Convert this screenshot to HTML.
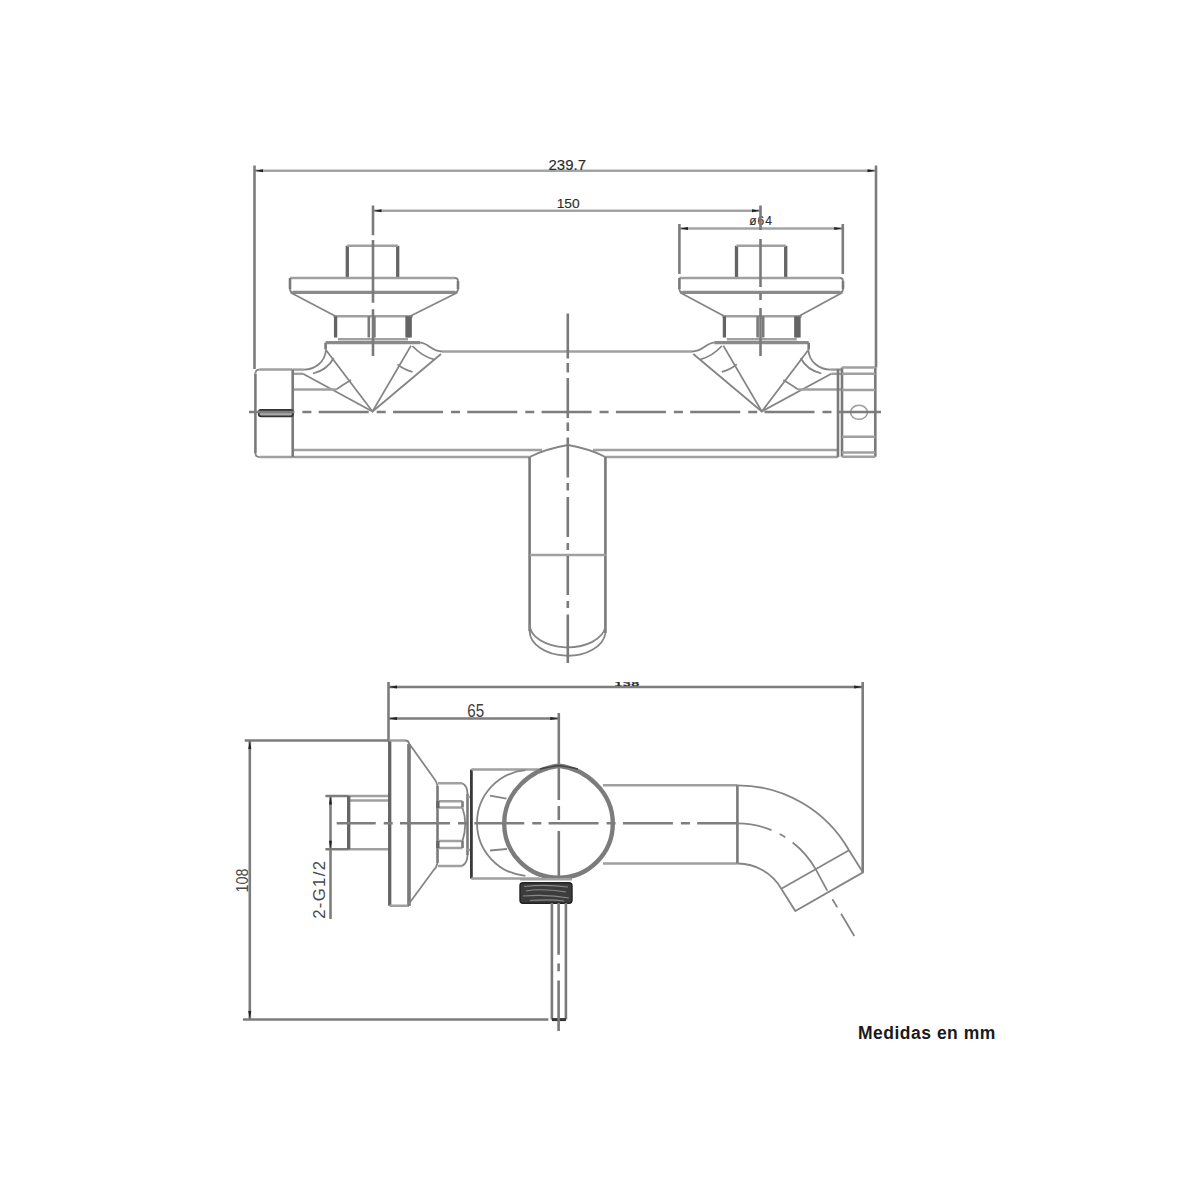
<!DOCTYPE html>
<html><head><meta charset="utf-8"><style>
html,body{margin:0;padding:0;background:#fff;width:1200px;height:1200px;overflow:hidden}
svg{position:absolute;left:0;top:0}
.l{stroke:#666;stroke-width:2.3;fill:none}
.t{stroke:#505050;stroke-width:2.8;fill:none}
.k{stroke:#444;stroke-width:2.4;fill:none}
.d{stroke:#666;stroke-width:2.3;fill:none}
.d2{stroke:#666;stroke-width:2.3;fill:none}
.c{stroke:#666;stroke-width:2.3;fill:none;stroke-dasharray:50 8 9 7.3}
.a{fill:#222;stroke:none}
text{font-family:"Liberation Sans",sans-serif;fill:#2a2a2a}

.l.h{stroke:#a0a0a0;stroke-width:2.5}
.l.v{stroke:#7a7a7a;stroke-width:2.6}
.l.g{stroke:#858585;stroke-width:1.8}
.c.h{stroke:#7d7d7d;stroke-width:2.5}
.c.v{stroke:#7a7a7a;stroke-width:2.6}
.c.g{stroke:#888;stroke-width:2.1}
.d.h{stroke:#a4a4a4;stroke-width:2.5}
.d.v{stroke:#7d7d7d;stroke-width:2.6}
.d2.h{stroke:#7d7d7d;stroke-width:2.5}
.d2.v{stroke:#7d7d7d;stroke-width:2.6}
.t.v{stroke:#646464;stroke-width:3.3}
.t.h{stroke:#8a8a8a;stroke-width:3.2}
.t.g{stroke:#707070;stroke-width:3}
.k.v{stroke:#3a3a3a;stroke-width:2.8}
.k.h{stroke:#333;stroke-width:3}
</style></head><body>
<svg width="1200" height="1200" viewBox="0 0 1200 1200">

<!-- ============ TOP VIEW ============ -->
<!-- dimension 239.7 -->
<g id="dims-top">
<path class="d h" d="M254.5,170.7H876"/><path class="d v" d="M254.5,165.5V369M876,165.5V367.5"/>
<path class="a" d="M255.0,170.7 L263.0,169.2 L263.0,172.2Z M875.5,170.7 L867.5,169.2 L867.5,172.2Z"/>
<text x="567.3" y="169.6" font-size="15" text-anchor="middle" style="stroke:#333;stroke-width:0.15">239.7</text>
<!-- dimension 150 -->
<path class="d h" d="M373,210.8H760.5"/>
<path class="a" d="M373.5,210.8 L381.5,209.3 L381.5,212.3Z M760.0,210.8 L752.0,209.3 L752.0,212.3Z"/>
<text x="0" y="0" font-size="13.8" text-anchor="middle" style="stroke:#333;stroke-width:0.15" transform="translate(568.2,207.7) scale(1,0.9)">150</text>
<!-- dimension o64 -->
<path class="d h" d="M679.4,228.6H842.8"/><path class="d v" d="M679.4,224V274M842.8,224V274"/>
<path class="a" d="M680.0,228.6 L688.0,227.1 L688.0,230.1Z M842.2,228.6 L834.2,227.1 L834.2,230.1Z"/>
<text x="761" y="225.3" font-size="12" text-anchor="middle" style="letter-spacing:1px;stroke:#333;stroke-width:0.1">ø64</text>
</g>

<g id="nutL">
<path class="l h" d="M333.5,316.2H413"/><rect x="406.5" y="316.5" width="4" height="21" fill="#999"/>
<path class="t v" d="M335.6,316.2V337.5M407,316.2V337.5M410.2,316.2V337.5"/>
<path class="l v" d="M368.8,316.2V337.5M374.4,316.2V337.5"/>
<path class="l h" d="M338,339.2H408"/>
</g>
<use href="#nutL" transform="translate(388.8,0)"/>
<!-- left knob upper -->
<path class="t v" d="M347.3,278V245.8M397.7,278V245.8"/>
<path class="l h" d="M347.3,245.8H397.7"/>
<path class="l h" d="M290,278H455M455,292.3H293"/><path class="l v" d="M458,281V289M290,289V278"/><path class="l g" d="M455,278Q458,278 458,281M458,289Q458,292.3 455,292.3M293,292.3Q290,292.3 290,289"/>
<path class="t h" d="M293,292.3H455"/>
<path class="l g" d="M290.5,292.5L335.6,316.2M457.5,292.5L410,316.2"/>
<!-- right knob upper -->
<path class="t v" d="M736.5,278V245.8M785.7,278V245.8"/>
<path class="l h" d="M736.5,245.8H785.7"/>
<path class="l h" d="M679.4,278H840M840,292.3H682.4"/><path class="l v" d="M843,281V289M679.4,289V278"/><path class="l g" d="M840,278Q843,278 843,281M843,289Q843,292.3 840,292.3M682.4,292.3Q679.4,292.3 679.4,289"/>
<path class="t h" d="M682.4,292.3H840"/>
<path class="l g" d="M680,292.5L724.4,316.2M842.5,292.5L798.8,316.2"/>
<!-- left knob -->
<g id="knobL">
<path class="t h" d="M325.6,342.7H420"/>
<path class="l v" d="M325.6,342.7V349.5"/><path class="l g" d="M325.6,349.5L372.5,411.5L411,345.6"/>
<path class="l g" d="M420,342.7C429,343 431,351.5 442.5,351.5"/>
<path class="l g" d="M441,354L372.5,411.5"/>
<path class="l g" d="M412.5,346C418,352 425,357 433.8,359.4"/>
<path class="l g" d="M397.5,364.4C402,368 407,370.5 412.5,371.9"/>
<path class="l h" d="M304,369.6H293"/><path class="l g" d="M326,350C325,362 315,369.6 304,369.6"/>
<path class="l g" d="M333.7,358C330,365 323,371 313,373.5"/>
<path class="l h" d="M293,373.8H303"/><path class="l g" d="M303,373.8L372.5,411.5"/>
<path class="l h" d="M293,389.4H336.5"/><path class="l g" d="M336.5,389.4C341,386 346,383 351,380"/>
</g>
<!-- right knob (mirror) -->
<use href="#knobL" transform="translate(1134.3,0) scale(-1,1)"/>

<!-- body -->
<path class="l h" d="M442,351.5H692"/>
<path class="l h" d="M292.7,450H542M593,450H838M292.7,457H529.6M605.4,457H838"/>
<!-- left end cap -->
<path class="l h" d="M292.7,369.6H259.4M259.4,457H292.7"/><path class="l v" d="M255.4,373.6V453"/><path class="l g" d="M259.4,369.6Q255.4,369.6 255.4,373.6M255.4,453Q255.4,457 259.4,457"/>
<path class="l v" d="M292.7,369.6V457"/>
<rect x="258.8" y="410" width="34" height="6.3" rx="2" fill="#aaa" stroke="#333" stroke-width="1.8"/>
<!-- right end cap -->
<path class="l v" d="M838,369V457"/>
<path class="l v" d="M842,367.4V456.7M875.3,367.4V456.7"/><path class="l h" d="M842,367.4H875.3M842,456.7H875.3"/>
<path class="l h" d="M842,373.8H875.3M842,390H875.3M842,436.8H875.3M842,452.6H875.3"/>
<ellipse cx="859" cy="412.3" rx="8.5" ry="7" fill="none" stroke="#9a9a9a" stroke-width="1.6"/>

<!-- spout top view -->
<path class="l v" d="M529.6,457V631M605.4,457V633.3"/>
<path class="l g" d="M529.6,457Q545,449 568,445Q590.6,449 605.4,457"/>
<path class="l h" d="M529.7,555H605.8"/>
<path class="l g" d="M529.6,624.2A38,23 0 0 0 605.4,626.7M529.6,631A38,25 0 0 0 605.4,633.3"/>

<!-- centerlines top view -->
<path class="c h" d="M249,412H881" stroke-dashoffset="4.6"/>
<path class="c v" d="M567.8,313.5V663" style="stroke-dasharray:45 4.5 9.6 5.4 40 4.4 8.6 6.6 39.9 5.5 7.5 6.5 40 6 7 6 39 6 7 6.5 60"/>
<path class="c v" d="M373,205.5V356" style="stroke-dasharray:29.8 4.7 62.7 6.6 60"/>
<path class="c v" d="M760.5,205.5V356" style="stroke-dasharray:24.5 9 48 6 7 8 60"/>

<!-- ============ SIDE VIEW ============ -->
<path class="d2 h" d="M388.5,687H862.7"/><path class="d2 v" d="M388.5,682V740.5M862.7,682V872"/>
<path class="a" d="M389.0,687.0 L397.0,685.5 L397.0,688.5Z M862.2,687.0 L854.2,685.5 L854.2,688.5Z"/>
<text x="0" y="0" font-size="9" text-anchor="middle" style="font-weight:bold" transform="translate(626.7,685.5) scale(1.7,0.62)">138</text>
<path class="d2 h" d="M388.5,718.6H558.8"/><path class="d2 v" d="M558.8,713V769"/>
<path class="a" d="M389.0,718.6 L397.0,717.1 L397.0,720.1Z M558.3,718.6 L550.3,717.1 L550.3,720.1Z"/>
<text x="475.7" y="717" font-size="18.5" text-anchor="middle" style="fill:#404040" transform="translate(475.7,717) scale(0.82,1) translate(-475.7,-717)">65</text>
<!-- 108 -->
<path class="d2 h" d="M244.7,740.5H388.5M243,1019.6H548.4"/><path class="d2 v" d="M249.8,740.5V1019.6"/>
<path class="a" d="M249.8,741.0 L248.3,749.0 L251.3,749.0Z M249.8,1019.0 L248.3,1011.0 L251.3,1011.0Z"/>
<text x="0" y="0" font-size="16.5" text-anchor="middle" style="fill:#4a4a4a" transform="translate(248.3,880.5) rotate(-90) scale(0.87,1)">108</text>
<!-- G1/2 -->
<path class="d2 h" d="M325.4,796H348.7M325.4,849.2H348.7"/><path class="d2 v" d="M330.5,796V919"/>
<path class="a" d="M330.5,796.5 L329.0,804.5 L332.0,804.5Z M330.5,848.7 L329.0,840.7 L332.0,840.7Z"/>
<text x="0" y="0" font-size="17" text-anchor="middle" style="fill:#4a4a4a;letter-spacing:1.4px" transform="translate(325.4,889.2) rotate(-90) scale(0.98,1)">2-G1/2</text>

<!-- G1/2 pipe -->
<path class="l h" d="M389.7,796H348.7M348.7,849.2H389.7M348.7,800.5H389.7"/><path class="l v" d="M348.7,796V849.2"/>
<path class="t v" d="M348.7,796V849.2"/>
<!-- flange -->
<path class="t v" d="M389.7,740.5V905.8M409,744V905.8"/>
<path class="l h" d="M389.7,740.5H405M409,905.8H389.7"/><path class="l v" d="M409,744V905.8"/><path class="l g" d="M405,740.5Q409,740.5 409,744"/>
<path class="l v" d="M437.5,786V863"/><path class="l g" d="M408.7,743L433,777Q436.5,781 437.5,786M437.5,863Q436.5,868 433,871L408.7,904"/>
<!-- nut -->
<path class="l h" d="M437.9,783.3H462.2M462.2,865.9H437.9"/><path class="l v" d="M467.5,794V855"/><path class="l g" d="M462.2,783.3Q467.5,786 467.5,794M467.5,855Q467.5,863 462.2,865.9"/>
<path class="l h" d="M438,801.2H462.5M462.5,807.6H438M438,841.1H462.5M462.5,848H438"/><path class="l v" d="M462.5,801.2V807.6M462.5,841.1V848"/>
<path class="l g" d="M462.5,808Q468,823.5 462.5,841"/>
<path class="l h" d="M467.5,797H471M467.5,850H471"/>
<path class="t v" d="M437.9,801V808M437.9,841V848"/>
<!-- body -->
<path class="k v" d="M471.4,769.5V878.6"/>
<path class="l h" d="M471.4,769.5H548M471.4,878.6H540"/>
<!-- left arc -->
<path class="l g" d="M525.4,770.2A53,53 0 0 0 525.4,875.8"/>
<path class="l g" d="M490,795.7L506.5,798.7M490,850.5L507,849"/>
<!-- main circle -->
<path d="M558.8,765.8C586,769 612.8,792 612.8,823.5A54.3,54.3 0 0 1 504.2,823.5C504.2,792 531,769 558.8,765.8Z" fill="none" stroke="#7c7c7c" stroke-width="4.4"/>
<path d="M540,769Q552,766.5 558.8,765.5Q566,766.5 578,769" stroke="#444" stroke-width="1.5" fill="none"/>
<!-- spout side -->
<path class="l h" d="M603,785.2H737.4M737.4,863.5H603"/><path class="l v" d="M737.4,785.2V863.5"/>
<path class="l g" d="M737.4,785.3A128.4,128.4 0 0 1 849,850.3L863,872.4L795.3,911L781.3,888.8A50.1,50.1 0 0 0 737.4,863.5"/>
<path class="l g" d="M781.3,888.8L849,850.3"/>
<path class="c h" d="M336.7,823.3H737.4" stroke-dashoffset="11"/><path class="l g" d="M737.4,823.3A90.4,90.4 0 0 1 815.5,868.9L827.3,890.6" stroke-dasharray="35 9 6.5 9 70"/><path class="l g" d="M827.3,890.6L854.3,936" stroke-dasharray="0 10 9.5 7.5 40"/>
<!-- thread -->
<path class="l h" d="M520,879.3H572"/><rect x="520" y="882.7" width="52" height="20.6" rx="3" fill="#3c3c3c" stroke="#222" stroke-width="1.4"/><path d="M524,886.5Q545,884 568,887 M526,891Q540,888 566,892 M523,896Q548,894 569,898 M530,900.5Q550,899 564,901" stroke="#888" stroke-width="1.1" fill="none"/>
<!-- pipe -->
<path class="l v" d="M551.9,903V1019.6M565.9,903V1019.6"/>
<path class="k h" d="M551.9,1019.6H565.9"/>
<path class="c v" d="M558.6,903V1031" style="stroke-dasharray:51.8 8.8 7.6 9.3 60"/>
<path class="c v" d="M558.8,769V878" style="stroke-dasharray:31 6 14 11 60"/>

<text x="858" y="1039" font-size="17.5" style="font-weight:bold;letter-spacing:0.5px;fill:#1a1a1a">Medidas en mm</text>
</svg>
</body></html>
